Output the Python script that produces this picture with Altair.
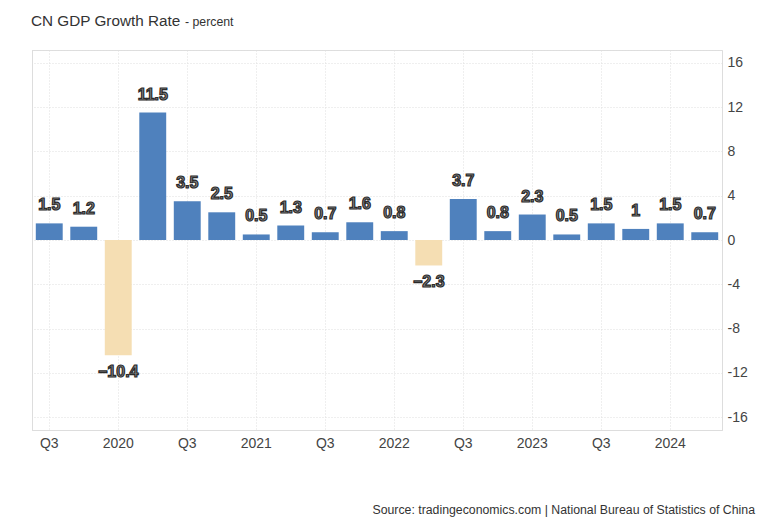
import altair as alt
import pandas as pd

quarters = ["2019Q3", "2019Q4", "2020Q1", "2020Q2", "2020Q3", "2020Q4",
            "2021Q1", "2021Q2", "2021Q3", "2021Q4", "2022Q1", "2022Q2",
            "2022Q3", "2022Q4", "2023Q1", "2023Q2", "2023Q3", "2023Q4",
            "2024Q1", "2024Q2"]
values = [1.5, 1.2, -10.4, 11.5, 3.5, 2.5, 0.5, 1.3, 0.7, 1.6, 0.8, -2.3,
          3.7, 0.8, 2.3, 0.5, 1.5, 1.0, 1.5, 0.7]
y_ticks = [-16, -12, -8, -4, 0, 4, 8, 12, 16]
x_ticks = quarters[::2]

title_text = "CN GDP Growth Rate"
unit_text = "- percent"
source_text = "Source: tradingeconomics.com | National Bureau of Statistics of China"

df = pd.DataFrame({"q": quarters, "value": values})

FONT = "Liberation Sans"
W, H = 690, 380
YMAX = 17.15
GRID = "#dedede"

x_enc = alt.X(
    "q:N", sort=quarters, title=None,
    scale=alt.Scale(paddingInner=0.22, paddingOuter=0.11),
    axis=alt.Axis(
        values=x_ticks, labelAngle=0, ticks=False, labelPadding=6,
        labelFontSize=14, labelColor="#444", labelFont=FONT,
        labelExpr="slice(datum.value,4)=='Q1' ? slice(datum.value,0,4) : slice(datum.value,4)",
        grid=True, gridColor=GRID, gridDash=[1, 2], bandPosition=0.5,
        domain=True, domainColor="#dddddd",
    ),
)
y_scale = alt.Scale(domain=[-YMAX, YMAX], nice=False, zero=False)

bars = alt.Chart(df).mark_bar().encode(
    x=x_enc,
    y=alt.Y("value:Q", scale=y_scale, title=None,
            axis=alt.Axis(orient="right", values=y_ticks, ticks=False,
                          labelPadding=5, labelFontSize=14, labelColor="#444",
                          labelFont=FONT, labelExpr="'' + datum.value",
                          grid=True, gridColor=GRID, gridDash=[1, 2],
                          domain=True, domainColor="#dddddd")),
    color=alt.condition("datum.value < 0", alt.value("#F5DEB3"), alt.value("#4F81BD")),
)

label_style = dict(font=FONT, fontSize=16, fontWeight="bold", fill="#8c8c8c",
                   stroke="#2a2a2a", strokeWidth=1.2)

left_axis = alt.Axis(orient="left", values=[YMAX], labels=False, ticks=False,
                     grid=True, gridColor=GRID, gridDash=[1, 2],
                     domain=True, domainColor="#dddddd", title=None)

pos_labels = alt.Chart(df).transform_filter("datum.value >= 0").mark_text(
    baseline="bottom", dy=-10, **label_style
).encode(
    x=alt.X("q:N", sort=quarters),
    y=alt.Y("value:Q", scale=y_scale, axis=left_axis),
    text=alt.Text("value:Q", format="~g"),
)

neg_labels = alt.Chart(df).transform_filter("datum.value < 0").mark_text(
    baseline="top", dy=9, **label_style
).encode(
    x=alt.X("q:N", sort=quarters),
    y=alt.Y("value:Q", scale=y_scale, axis=left_axis),
    text=alt.Text("value:Q", format="~g"),
)

title = alt.Chart(pd.DataFrame({"t": [title_text]})).mark_text(
    font=FONT, fontSize=15.3, color="#333", align="left", baseline="alphabetic"
).encode(x=alt.value(-1), y=alt.value(-24), text="t:N")

unit = alt.Chart(pd.DataFrame({"t": [unit_text]})).mark_text(
    font=FONT, fontSize=12.3, color="#333", align="left", baseline="alphabetic"
).encode(x=alt.value(153), y=alt.value(-24), text="t:N")

source = alt.Chart(pd.DataFrame({"t": [source_text]})).mark_text(
    font=FONT, fontSize=12.3, color="#333", align="right", baseline="middle"
).encode(x=alt.value(723), y=alt.value(460), text="t:N")

chart = alt.layer(bars, pos_labels, neg_labels, title, unit, source).resolve_axis(
    y="independent"
).properties(
    width=W, height=H,
    autosize="none",
    padding={"left": 24, "top": 42, "right": 38, "bottom": 95},
).configure_view(stroke=None).configure(background="white")

chart.save("out.html", embed_options={"renderer": "svg", "actions": False})
